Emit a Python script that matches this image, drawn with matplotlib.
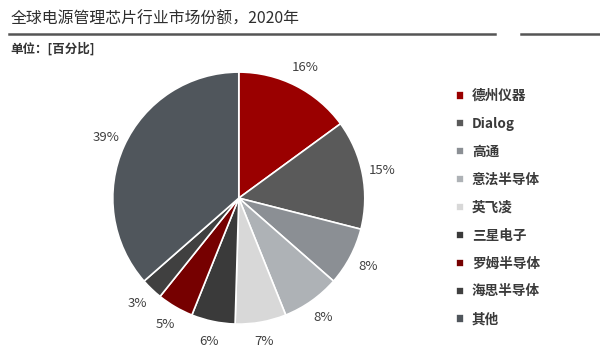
import matplotlib
matplotlib.use('Agg')
from matplotlib import pyplot as plt
from matplotlib.lines import Line2D

plt.rcParams['font.family'] = ['Noto Sans CJK SC', 'DejaVu Sans']

companies = ['德州仪器', 'Dialog', '高通', '意法半导体', '英飞凌',
             '三星电子', '罗姆半导体', '海思半导体', '其他']
shares = [16, 15, 8, 8, 7, 6, 5, 3, 39]
colors = ['#9a0000', '#5a5a5a', '#8b8f94', '#aeb2b6', '#d8d8d8',
          '#3a3a3a', '#760000', '#404040', '#50565c']

fig = plt.figure(figsize=(6, 3.55), dpi=100)

# title + rule
fig.text(0.018, 0.945, '全球电源管理芯片行业市场份额，2020年', fontsize=11.4,
         color='#2e2e2e', va='center')
fig.add_artist(Line2D([0.015, 0.825], [0.905, 0.905], color='#555555', lw=1.8))
fig.add_artist(Line2D([0.868, 1.0], [0.905, 0.905], color='#555555', lw=1.8))
fig.text(0.018, 0.862, '单位：[百分比]', fontsize=9, color='#333333',
         va='center', fontweight='bold')

ax = fig.add_axes([0.188, 0.087, 0.42, 0.71])
labels = [str(v) + '%' for v in shares]
wedges, texts = ax.pie(shares, colors=colors, startangle=90, counterclock=False,
                       labels=labels, labeldistance=1.16,
                       wedgeprops=dict(edgecolor='white', linewidth=1.2),
                       textprops=dict(fontsize=9.5, color='#404040'))
for t in texts:
    t.set_horizontalalignment('center')
    t.set_verticalalignment('center')
    t.set_clip_on(False)
ax.set_xlim(-1, 1)
ax.set_ylim(-1, 1)
ax.set_aspect('equal')

leg = fig.legend(wedges, companies, loc='upper left', bbox_to_anchor=(0.74, 0.783),
                 frameon=False, fontsize=9.8, handlelength=0.55, handleheight=0.55,
                 handletextpad=0.6, labelspacing=1.02)
for txt in leg.get_texts():
    txt.set_color('#3a3a3a')
    txt.set_fontweight('bold')

fig.savefig('out.png', dpi=100)
